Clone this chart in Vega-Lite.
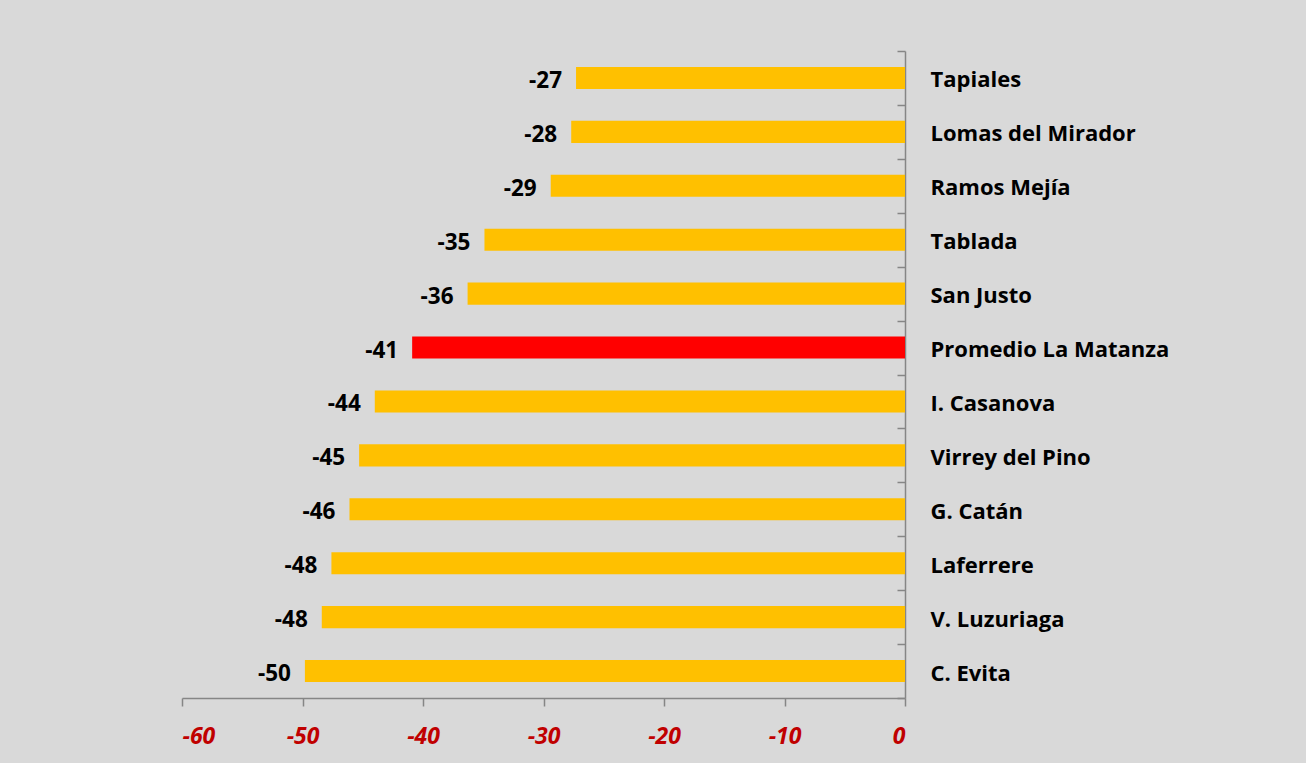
{
  "$schema": "https://vega.github.io/schema/vega-lite/v6.json",
  "autosize": {"type": "none"},
  "width": 723,
  "height": 647,
  "padding": {"left": 182, "top": 51, "right": 401, "bottom": 65},
  "background": "#d9d9d9",
  "config": {
    "view": {"stroke": null},
    "font": "Open Sans"
  },
  "data": {
    "values": [
      {"localidad": "Tapiales", "valor": -27.3, "tipo": "loc"},
      {"localidad": "Lomas del Mirador", "valor": -27.7, "tipo": "loc"},
      {"localidad": "Ramos Mejía", "valor": -29.4, "tipo": "loc"},
      {"localidad": "Tablada", "valor": -34.9, "tipo": "loc"},
      {"localidad": "San Justo", "valor": -36.3, "tipo": "loc"},
      {"localidad": "Promedio La Matanza", "valor": -40.9, "tipo": "prom"},
      {"localidad": "I. Casanova", "valor": -44.0, "tipo": "loc"},
      {"localidad": "Virrey del Pino", "valor": -45.3, "tipo": "loc"},
      {"localidad": "G. Catán", "valor": -46.1, "tipo": "loc"},
      {"localidad": "Laferrere", "valor": -47.6, "tipo": "loc"},
      {"localidad": "V. Luzuriaga", "valor": -48.4, "tipo": "loc"},
      {"localidad": "C. Evita", "valor": -49.8, "tipo": "loc"}
    ]
  },
  "transform": [
    {"calculate": "replace(format(datum.valor, '.0f'), '\u2212', '-')", "as": "etiqueta"}
  ],
  "encoding": {
    "y": {
      "field": "localidad",
      "type": "nominal",
      "sort": null,
      "scale": {"paddingInner": 0, "paddingOuter": 0},
      "axis": {
        "orient": "right",
        "title": null,
        "domainColor": "#868686",
        "domainWidth": 1.5,
        "tickColor": "#868686",
        "tickWidth": 1.5,
        "tickSize": -8,
        "tickBand": "extent",
        "labelFont": "Open Sans",
        "labelFontWeight": "bold",
        "labelFontSize": 22,
        "labelColor": "#000000",
        "labelPadding": 33,
        "labelOffset": 2,
        "labelLimit": 400
      }
    },
    "x": {
      "field": "valor",
      "type": "quantitative",
      "scale": {"domain": [-60, 0], "nice": false},
      "axis": {
        "title": null,
        "values": [-60, -50, -40, -30, -20, -10, 0],
        "grid": false,
        "domainColor": "#868686",
        "domainWidth": 1.5,
        "tickColor": "#868686",
        "tickWidth": 1.5,
        "tickSize": 8,
        "labelExpr": "replace(datum.label, '\u2212', '-')",
        "labelFont": "Open Sans",
        "labelFontWeight": "bold",
        "labelFontStyle": "italic",
        "labelFontSize": 23,
        "labelColor": "#c00000",
        "labelPadding": 19
      }
    }
  },
  "layer": [
    {
      "mark": {"type": "bar", "height": {"band": 0.41}},
      "encoding": {
        "color": {
          "field": "tipo",
          "type": "nominal",
          "scale": {"domain": ["loc", "prom"], "range": ["#ffc000", "#ff0000"]},
          "legend": null
        }
      }
    },
    {
      "mark": {"type": "text", "align": "right", "baseline": "middle", "dx": -14, "dy": 3, "font": "Open Sans", "fontWeight": "bold", "fontSize": 22.5, "color": "#000000"},
      "encoding": {
        "text": {"field": "etiqueta", "type": "nominal"}
      }
    }
  ]
}
